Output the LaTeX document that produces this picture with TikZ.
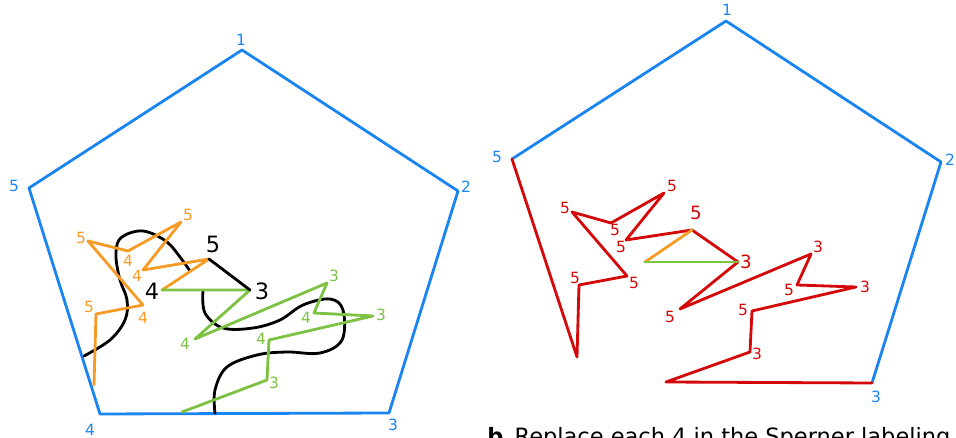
\documentclass[tikz,border=0pt]{standalone}
\usepackage{fontspec}
\setmainfont{DejaVu Sans}
\usetikzlibrary{positioning}
\definecolor{pblue}{HTML}{1A85F0}
\definecolor{pred}{HTML}{D40808}
\definecolor{porange}{HTML}{F59B26}
\definecolor{pgreen}{HTML}{7DC243}

\begin{document}
\begin{tikzpicture}[
  x=0.025cm, y=-0.025cm,
  edge/.style={line width=2pt, line join=round, line cap=round},
  tag/.style={inner sep=0pt, font=\fontsize{11}{11}\selectfont},
  bigtag/.style={inner sep=0pt, font=\fontsize{16}{16}\selectfont},
]

\useasboundingbox (0,0) rectangle (956,438);

% ============================================================
% LEFT PENTAGON
% ============================================================
\coordinate (L1) at (242,50);
\coordinate (L2) at (458,191);
\coordinate (L3) at (389,413);
\coordinate (L4) at (100,414);
\coordinate (L5) at (29,188);
\draw[edge, pblue] (L1) -- (L2) -- (L3) -- (L4) -- (L5) -- cycle;
\node[tag, text=pblue] (tL1) at (241,40) {1};
\node[tag, text=pblue] (tL2) at (466,187) {2};
\node[tag, text=pblue] (tL3) at (393,425) {3};
\node[tag, text=pblue] (tL4) at (90,430) {4};
\node[tag, text=pblue] (tL5) at (14,186) {5};

% black path through the labeling
\draw[edge] plot[smooth, tension=0.6] coordinates {
  (84,356) (110,340) (125,320) (127,300) (120,280) (116,257)
  (119,240) (133,232) (148,232) (167,242) (180,257) (190,271)};
\draw[edge] plot[smooth, tension=0.6] coordinates {
  (203,291) (205,313) (223,328) (253,328) (280,320) (303,305)
  (330,299) (343,310) (342,340) (320,353) (287,352) (257,355)
  (227,367) (215,390) (215,413)};

% === orange chain ===
\coordinate (o1) at (94,385);
\coordinate (o2) at (96,314);
\coordinate (o3) at (143,305);
\coordinate (o4) at (88,241);
\coordinate (o5) at (128,251);
\coordinate (o6) at (181,222);
\coordinate (o7) at (143,270);
\coordinate (o8) at (209,259);
\coordinate (o9) at (162,290);
\draw[edge, porange] (o1) -- (o2) -- (o3) -- (o4) -- (o5) -- (o6)
  -- (o7) -- (o8) -- (o9);
\node[tag, text=porange] (to2) at (89,307) {5};
\node[tag, text=porange] (to3) at (143,318) {4};
\node[tag, text=porange] (to4) at (81,238) {5};
\node[tag, text=porange] (to5) at (128,261) {4};
\node[tag, text=porange] (to6) at (188,215) {5};
\node[tag, text=porange] (to7) at (137,276) {4};

% === green chain ===
\coordinate (g0) at (250,290);
\coordinate (g1) at (195,339);
\coordinate (g2) at (327,283);
\coordinate (g3) at (314,313);
\coordinate (g4) at (373,316);
\coordinate (g5) at (269,340);
\coordinate (g6) at (267,380);
\coordinate (g7) at (182,412);
\draw[edge, pgreen] (o9) -- (g0) -- (g1) -- (g2) -- (g3) -- (g4)
  -- (g5) -- (g6) -- (g7);
\node[tag, text=pgreen] (tg1) at (185,344) {4};
\node[tag, text=pgreen] (tg2) at (334,276) {3};
\node[tag, text=pgreen] (tg3) at (306,318) {4};
\node[tag, text=pgreen] (tg4) at (381,315) {3};
\node[tag, text=pgreen] (tg5) at (261,339) {4};
\node[tag, text=pgreen] (tg6) at (274,383) {3};

% === the last triangle ===
\draw[edge] (o8) -- (g0);
\node[bigtag] (to8) at (213,244) {5};
\node[bigtag] (to9) at (152,291) {4};
\node[bigtag] (tg0) at (262,291) {3};

% ============================================================
% RIGHT PENTAGON
% ============================================================
\coordinate (R1) at (726,21);
\coordinate (R2) at (941,162);
\coordinate (R3) at (872,383);
\coordinate (R5) at (512,159);
\draw[edge, pblue] (R5) -- (R1) -- (R2) -- (R3);
\node[tag, text=pblue] (tR1) at (727,10) {1};
\node[tag, text=pblue] (tR2) at (950,160) {2};
\node[tag, text=pblue] (tR3) at (876,397) {3};
\node[tag, text=pblue] (tR5) at (497,157) {5};

% === red chain ===
\coordinate (r1) at (577,357);
\coordinate (r2) at (579,285);
\coordinate (r3) at (627,276);
\coordinate (r4) at (572,212);
\coordinate (r5) at (611,223);
\coordinate (r6) at (664,193);
\coordinate (r7) at (626,240);
\coordinate (r8) at (692,230);
\coordinate (r9) at (738,262);
\coordinate (r10) at (680,309);
\coordinate (r11) at (811,254);
\coordinate (r12) at (797,285);
\coordinate (r13) at (856,287);
\coordinate (r14) at (752,311);
\coordinate (r15) at (750,352);
\coordinate (r16) at (666,382);
\coordinate (rT) at (645,262);
\draw[edge, pred] (R5) -- (r1) -- (r2) -- (r3) -- (r4) -- (r5) -- (r6)
  -- (r7) -- (r8) -- (r9) -- (r10) -- (r11) -- (r12) -- (r13) -- (r14)
  -- (r15) -- (r16) -- (R3);
\draw[edge, porange] (r8) -- (rT);
\draw[edge, pgreen] (rT) -- (r9);
\node[tag, text=pred] (tr2) at (575,278) {5};
\node[tag, text=pred] (tr3) at (634,283) {5};
\node[tag, text=pred] (tr4) at (565,208) {5};
\node[tag, text=pred] (tr5) at (615,230) {5};
\node[tag, text=pred] (tr6) at (672,186) {5};
\node[tag, text=pred] (tr7) at (621,247) {5};
\node[bigtag, text=pred, font=\fontsize{13}{13}\selectfont] (tr8) at (696,213) {5};
\node[bigtag, text=pred, font=\fontsize{13}{13}\selectfont] (tr9) at (746,262) {3};
\node[tag, text=pred] (tr10) at (670,317) {5};
\node[tag, text=pred] (tr11) at (818,247) {3};
\node[tag, text=pred] (tr12) at (789,290) {5};
\node[tag, text=pred] (tr13) at (865,287) {3};
\node[tag, text=pred] (tr14) at (743,310) {5};
\node[tag, text=pred] (tr15) at (757,354) {3};

% === caption (cut by the page edge) ===
\node[anchor=base west, inner sep=0pt, font=\fontsize{16}{16}\selectfont]
  (cap) at (487,445) {\textbf{b}\enspace Replace each 4 in the Sperner labeling};

\end{tikzpicture}
\end{document}
